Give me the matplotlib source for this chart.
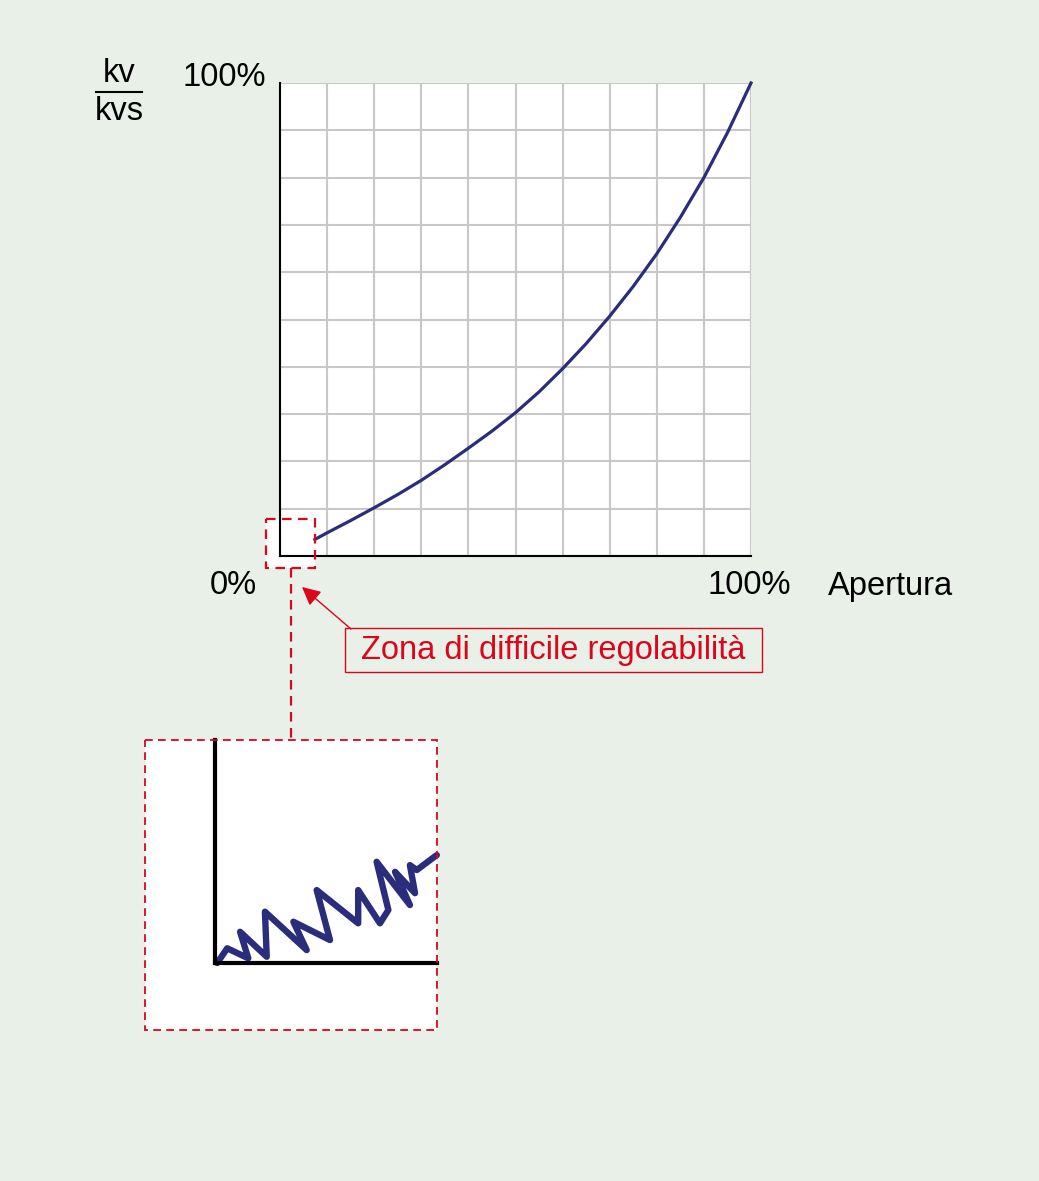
import matplotlib.pyplot as plt
from matplotlib.patches import Rectangle

plt.rcParams['font.family'] = ['Liberation Sans', 'DejaVu Sans']

# curva caratteristica (apertura %, kv/kvs %)
apertura = [7.4, 10, 15, 20, 25, 30, 35, 40, 45, 50, 55, 60, 65, 70, 75, 80, 85, 90, 95, 100]
kv_kvs = [3.5, 4.9, 7.5, 10.2, 13.0, 16.0, 19.3, 22.8, 26.4, 30.3, 34.7, 39.6, 44.9,
          50.7, 57.0, 63.9, 71.6, 80.0, 89.5, 100.0]

# dettaglio zona di difficile regolabilita (zigzag)
zoom_x = [1, 5.5, 15.0, 11.3, 23.3, 22.5, 41.3, 35.3, 51.8, 45.8, 64.5, 64.5, 74.3, 78.1,
          72.8, 87.8, 81.1, 90.1, 87.8, 90.9, 99.9]
zoom_y = [0, 6.6, 2.1, 14.0, 2.8, 23.0, 5.8, 18.5, 10.3, 32.7, 17.8, 32.7, 17.8, 23.8,
          45.4, 26.0, 40.9, 31.3, 43.9, 41.7, 48.4]

griglia = list(range(0, 101, 10))

W, H = 1039, 1181
BG = '#e8f0e8'
ROSSO = '#d9061c'
BLU = '#2a2c7c'
FS = 23.5

fig = plt.figure(figsize=(W / 100, H / 100), dpi=100, facecolor=BG)


def box(x, y, w, h):
    # pixel -> figure fraction
    return [x / W, 1 - (y + h) / H, w / W, h / H]


# sfondo (riempimenti bianchi)
bg = fig.add_axes([0, 0, 1, 1], zorder=0)
bg.set_xlim(0, W)
bg.set_ylim(H, 0)
bg.axis('off')
bg.add_patch(Rectangle((266, 519), 49, 49, facecolor='white', edgecolor='none'))
bg.add_patch(Rectangle((145, 740), 292, 290, facecolor='white', edgecolor='none'))

# grafico principale
ax = fig.add_axes(box(280, 83, 471, 473), zorder=2)
ax.set_facecolor('white')
ax.set_xlim(0, 100)
ax.set_ylim(0, 100)
ax.set_xticks(griglia)
ax.set_yticks(griglia)
ax.tick_params(length=0, labelbottom=False, labelleft=False)
ax.grid(True, color='#c8c8c8', lw=1.5)
ax.set_axisbelow(True)
for s in ['top', 'right']:
    ax.spines[s].set_visible(False)
for s in ['left', 'bottom']:
    ax.spines[s].set_linewidth(1.5)
    ax.spines[s].set_zorder(3)
ax.plot(apertura, kv_kvs, color=BLU, lw=2.3, clip_on=False, zorder=4,
        solid_joinstyle='round')

# ingrandimento
ins = fig.add_axes(box(215, 740, 222, 223), zorder=2)
ins.set_facecolor('white')
ins.set_xlim(0, 100)
ins.set_ylim(0, 100)
ins.set_xticks([])
ins.set_yticks([])
for s in ['top', 'right']:
    ins.spines[s].set_visible(False)
for s in ['left', 'bottom']:
    ins.spines[s].set_linewidth(3)
ins.plot(zoom_x, zoom_y, color=BLU, lw=4.6, clip_on=False, solid_joinstyle='round',
         solid_capstyle='round')

# primo piano: testi e tratteggi
fg = fig.add_axes([0, 0, 1, 1], zorder=5)
fg.set_xlim(0, W)
fg.set_ylim(H, 0)
fg.axis('off')
fg.patch.set_alpha(0)

dash = (0, (4.3, 2.9))
fg.add_patch(Rectangle((266, 519), 49, 49, fill=False, edgecolor=ROSSO, lw=1.6, ls=dash))
fg.add_patch(Rectangle((145, 740), 292, 290, fill=False, edgecolor=ROSSO, lw=1.3, ls=dash))
fg.plot([291, 291], [568, 740], color=ROSSO, lw=1.6, ls=dash)

fg.text(119, 74, 'kv', fontsize=FS, ha='center', va='center')
fg.plot([96, 142], [92, 92], color='black', lw=1.5)
fg.text(119, 112, 'kvs', fontsize=FS, ha='center', va='center')
fg.text(266, 77, '100%', fontsize=FS, ha='right', va='center')
fg.text(233, 586, '0%', fontsize=FS, ha='center', va='center')
fg.text(749, 586, '100%', fontsize=FS, ha='center', va='center')
fg.text(828, 586, 'Apertura', fontsize=FS, ha='left', va='center')

fg.add_patch(Rectangle((345, 628), 417, 44, fill=False, edgecolor=ROSSO, lw=1))
fg.text(553, 650, 'Zona di difficile regolabilità', fontsize=FS, color=ROSSO,
        ha='center', va='center')
fg.annotate('', xy=(302, 587), xytext=(351, 629),
            arrowprops=dict(arrowstyle='-|>', color=ROSSO, lw=1, mutation_scale=28,
                            shrinkA=0, shrinkB=0))

fig.savefig('out.png', dpi=100, facecolor=BG)
